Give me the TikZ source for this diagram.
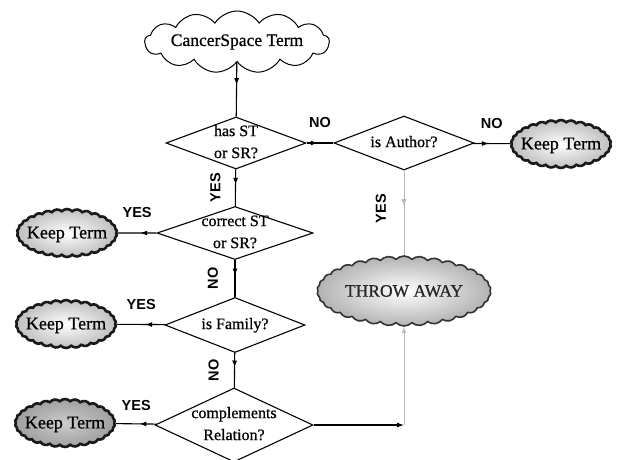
\documentclass[tikz,border=0pt]{standalone}
\usepackage{fontspec}
\setmainfont{Liberation Serif}[FakeBold=0.8]
\newfontfamily\lblfont{Liberation Sans}
\usetikzlibrary{shapes.geometric,shapes.symbols,arrows.meta,decorations.markings}

\newcommand{\dtext}[1]{\makebox[0pt]{\smash{\raisebox{-.25em}{\begin{tabular}{@{}c@{}}#1\end{tabular}}}}}
\newcommand{\ktext}{\makebox[0pt]{\smash{\raisebox{-.3em}{Keep Term}}}}

\tikzset{
    decision/.style={diamond, draw, line width=1.1pt, inner sep=0pt,
        font=\fontsize{16}{22}\selectfont},
    startcloud/.style={cloud, cloud puffs=13, cloud puff arc=115, cloud ignores aspect,
        draw, line width=1pt, fill=white, minimum width=178pt, minimum height=62pt,
        inner sep=0pt, font=\fontsize{17.5}{20}\selectfont},
    keepterm/.style={cloud, cloud puffs=30, cloud puff arc=95, cloud ignores aspect,
        draw=black!90, line width=2.6pt, inner color=white, outer color=gray!50,
        minimum width=100pt, minimum height=48pt, inner sep=0pt,
        font=\fontsize{18}{20}\selectfont},
    throwaway/.style={cloud, cloud puffs=34, cloud puff arc=90, cloud ignores aspect,
        draw=gray!40!black, line width=1.6pt, inner color=white, outer color=gray!60,
        text=gray!30!black, minimum width=174pt, minimum height=70pt, inner sep=0pt,
        font=\fontsize{17.5}{20}\selectfont},
    lbl/.style={font=\lblfont\bfseries\fontsize{14.5}{15}\selectfont, inner sep=0pt},
    flow/.style={line width=1.1pt, postaction={decorate},
        decoration={markings, mark=at position .42 with {\arrow{Latex[length=7pt,width=5pt]}}}},
}

\begin{document}
\begin{tikzpicture}[x=1pt,y=-1pt]
    \useasboundingbox (0,0) rectangle (619,459);
    \node[startcloud] (cst) at (237,42) {CancerSpace Term};
    \node[decision, minimum width=140pt, minimum height=52pt] (hasst) at (236,143) {\dtext{has ST\\or SR?}};
    \node[decision, minimum width=140pt, minimum height=54pt] (author) at (404,143) {\dtext{is Author?}};
    \node[decision, minimum width=156pt, minimum height=53pt] (correct) at (235,233) {\dtext{correct ST\\or SR?}};
    \node[decision, minimum width=140pt, minimum height=55pt] (family) at (235,325) {\dtext{is Family?}};
    \node[decision, minimum width=158pt, minimum height=74pt] (compl) at (234,425) {\dtext{complements\\Relation?}};
    \node[keepterm] (keepA) at (561,144) {\ktext};
    \node[keepterm] (keepB) at (67,233) {\ktext};
    \node[keepterm] (keepC) at (66,324) {\ktext};
    \node[keepterm, inner color=gray!40, outer color=gray!75] (keepD) at (65,423) {\ktext};
    \node[throwaway] (throw) at (404,291) {THROW AWAY};
    \coordinate (corner) at (throw.south |- compl.east);

    \draw[flow] (cst) -- (hasst);
    \draw[flow] (hasst) -- node[lbl, pos=.5, yshift=20pt] {NO} (author);
    \draw[flow] (author) -- node[lbl, pos=.5, yshift=20pt] {NO} (keepA);
    \draw[flow] (hasst) -- node[lbl, pos=.5, xshift=-20pt, rotate=90] {YES} (correct);
    \draw[flow] (correct) -- node[lbl, pos=.5, yshift=20pt] {YES} (keepB);
    \draw[flow] (correct) -- node[lbl, pos=.5, xshift=-22pt, rotate=90] {NO} (family);
    \draw[flow] (family) -- node[lbl, pos=.5, yshift=20pt] {YES} (keepC);
    \draw[flow] (family) -- node[lbl, pos=.5, xshift=-21pt, rotate=90] {NO} (compl);
    \draw[flow] (compl) -- node[lbl, pos=.5, yshift=18pt] {YES} (keepD);
    \draw[flow, line width=.7pt, draw=gray!55] (author) -- node[lbl, pos=.45, xshift=-23pt, rotate=90] {YES} (throw);
    \draw[line width=1.1pt, -{Latex[length=7pt,width=5pt]}] (compl.east) -- (corner);
    \draw[line width=.7pt, draw=gray!55, -{Latex[length=6pt,width=4pt]}] (corner) -- (throw);
\end{tikzpicture}
\end{document}
